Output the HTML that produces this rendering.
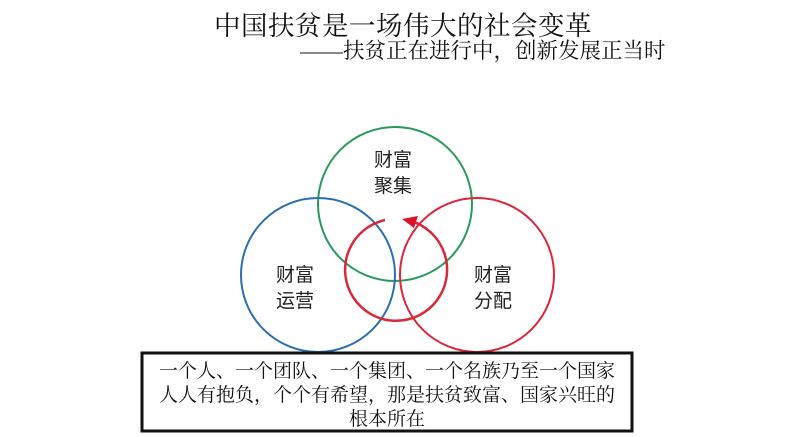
<!DOCTYPE html>
<html><head><meta charset="utf-8"><style>
body{margin:0;width:800px;height:437px;background:#fff;overflow:hidden;position:relative;font-family:"Liberation Serif","Noto Serif CJK SC",serif;color:#111}
.t{position:absolute;white-space:nowrap}
</style></head><body>
<div class="t" style="left:214px;top:4px;font-size:26.5px;letter-spacing:0.5px">中国扶贫是一场伟大的社会变革</div>
<div class="t" style="left:300px;top:34px;font-size:21.5px">——扶贫正在进行中，创新发展正当时</div>
<svg width="800" height="437" style="position:absolute;left:0;top:0">
<circle cx="395" cy="204" r="77" fill="none" stroke="#2a9a5c" stroke-width="2"/>
<circle cx="318" cy="275" r="77" fill="none" stroke="#2b6fb0" stroke-width="2"/>
<circle cx="477" cy="275" r="77" fill="none" stroke="#d9283a" stroke-width="2"/>
<path d="M385 220 A51 51 0 1 0 411 221" fill="none" stroke="#d9283a" stroke-width="2.5"/>
<polygon points="402,219 418,216 414,228" fill="#e0102a"/>
<g font-size="19" fill="#222" font-family="Liberation Sans, Noto Sans CJK SC, sans-serif">
<text x="374" y="166">财富</text><text x="374" y="192">聚集</text>
<text x="276" y="281">财富</text><text x="276" y="307">运营</text>
<text x="474" y="281">财富</text><text x="474" y="307">分配</text>
</g>
<rect x="142" y="353" width="490" height="78" fill="#fff" stroke="#111" stroke-width="3"/>
<g font-size="19" fill="#111" text-anchor="middle">
<text x="387" y="377">一个人、一个团队、一个集团、一个名族乃至一个国家</text>
<text x="387" y="401">人人有抱负，个个有希望，那是扶贫致富、国家兴旺的</text>
<text x="387" y="425">根本所在</text>
</g>
</svg>
</body></html>
